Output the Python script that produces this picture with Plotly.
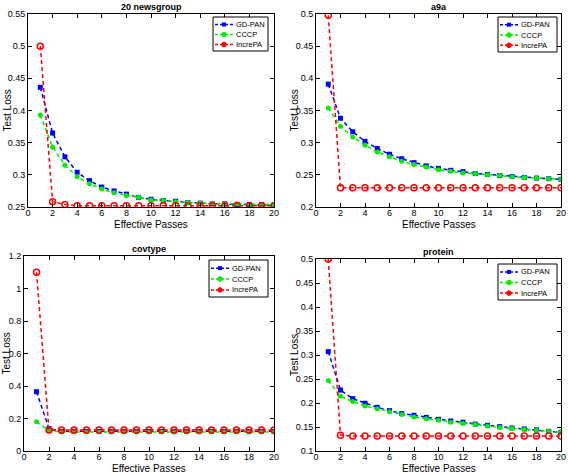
import plotly.graph_objects as go

passes = list(range(1, 21))

# 20 newsgroup
ng_gdpan = [0.436, 0.365, 0.328, 0.304, 0.291, 0.281, 0.275, 0.270, 0.265, 0.262,
            0.260, 0.259, 0.257, 0.256, 0.255, 0.255, 0.254, 0.254, 0.254, 0.253]
ng_cccp = [0.393, 0.343, 0.315, 0.297, 0.286, 0.278, 0.272, 0.268, 0.265, 0.261,
           0.260, 0.258, 0.257, 0.256, 0.256, 0.255, 0.255, 0.254, 0.254, 0.254]
ng_increpa = [0.500, 0.258, 0.254, 0.252, 0.252, 0.252, 0.252, 0.252, 0.252, 0.252,
              0.252, 0.252, 0.252, 0.252, 0.252, 0.252, 0.252, 0.252, 0.252, 0.252]

# a9a
a9_gdpan = [0.391, 0.338, 0.317, 0.302, 0.291, 0.282, 0.275, 0.269, 0.264, 0.260,
            0.257, 0.255, 0.252, 0.2505, 0.249, 0.2475, 0.246, 0.245, 0.244, 0.243]
a9_cccp = [0.354, 0.3255, 0.309, 0.296, 0.2855, 0.278, 0.271, 0.266, 0.262, 0.258,
           0.2555, 0.253, 0.252, 0.250, 0.249, 0.247, 0.246, 0.245, 0.244, 0.243]
a9_increpa = [0.498] + [0.230] * 19

# covtype
cov_gdpan = [0.365, 0.138] + [0.121] * 18
cov_cccp = [0.180, 0.125] + [0.117] * 18
cov_increpa = [1.100, 0.129] + [0.129] * 18

# protein
pr_gdpan = [0.307, 0.227, 0.209, 0.1995, 0.191, 0.184, 0.178, 0.1745, 0.170, 0.166,
            0.1625, 0.160, 0.156, 0.1535, 0.1507, 0.148, 0.146, 0.144, 0.141, 0.139]
pr_cccp = [0.247, 0.214, 0.203, 0.194, 0.188, 0.182, 0.176, 0.171, 0.167, 0.164,
           0.160, 0.1575, 0.155, 0.152, 0.149, 0.147, 0.145, 0.143, 0.141, 0.139]
pr_increpa = [0.500, 0.133] + [0.131] * 18

titles = ["20 newsgroup", "a9a", "covtype", "protein"]
series_names = ["GD-PAN", "CCCP", "IncrePA"]
x_label = "Effective Passes"
y_label = "Test Loss"
data = [
    (ng_gdpan, ng_cccp, ng_increpa),
    (a9_gdpan, a9_cccp, a9_increpa),
    (cov_gdpan, cov_cccp, cov_increpa),
    (pr_gdpan, pr_cccp, pr_increpa),
]
y_ranges = [(0.25, 0.55), (0.2, 0.5), (0, 1.2), (0.1, 0.5)]
y_dticks = [0.05, 0.05, 0.2, 0.05]

W, H = 568, 475
# pixel boxes: (left, right, top, bottom)
boxes = [(28, 274, 14, 207), (316, 561, 14, 207), (24, 274, 256, 451), (316, 561, 259, 451)]
# legend boxes: (left, top, right, bottom)
legend_boxes = [(213, 17, 268, 51), (498, 17, 557, 52), (209, 260, 268, 297), (498, 264, 557, 300)]
ytitle_x = [7, 294, 6, 294]

FONT = "Liberation Sans, Arial, sans-serif"
colors = ["#0000ff", "#00ee00", "#ff0000"]


def px(x):
    return x / W


def py(y):
    return 1 - y / H


fig = go.Figure()
annotations = []
shapes = []
layout = dict(width=W, height=H, margin=dict(l=0, r=0, t=0, b=0),
              paper_bgcolor="white", plot_bgcolor="white",
              font=dict(family=FONT, size=9, color="black"), showlegend=False)

for i in range(4):
    l, r, t, b = boxes[i]
    xa = "xaxis" if i == 0 else f"xaxis{i+1}"
    ya = "yaxis" if i == 0 else f"yaxis{i+1}"
    xref = "x" if i == 0 else f"x{i+1}"
    yref = "y" if i == 0 else f"y{i+1}"
    g, c, p = data[i]
    for k, (vals, name) in enumerate(zip((g, c, p), series_names)):
        if k == 0:
            marker = dict(symbol="square", size=5, color=colors[0])
        elif k == 1:
            marker = dict(symbol="circle", size=5, color=colors[1])
        else:
            marker = dict(symbol="circle-open", size=6, color=colors[2], line=dict(width=1.5))
        fig.add_trace(go.Scatter(
            x=passes, y=vals, name=name, mode="lines+markers",
            line=dict(color=colors[k], width=1.5, dash="4px,3px"),
            marker=marker, xaxis=xref, yaxis=yref))
    layout[xa] = dict(domain=[px(l), px(r)], anchor=yref, range=[0, 20], dtick=2,
                      showline=True, mirror="ticks", linecolor="black", linewidth=1,
                      ticks="inside", ticklen=4, tickcolor="black", showgrid=False,
                      zeroline=False, tickfont=dict(size=9), automargin=False,
                      ticklabelstandoff=-3)
    layout[ya] = dict(domain=[py(b), py(t)], anchor=xref, range=list(y_ranges[i]),
                      dtick=y_dticks[i], showline=True, mirror="ticks", linecolor="black",
                      linewidth=1, ticks="inside", ticklen=4, tickcolor="black",
                      showgrid=False, zeroline=False, tickfont=dict(size=9), automargin=False)
    # title
    annotations.append(dict(text=f"<b>{titles[i]}</b>", x=px((l + r) / 2), y=py(t - 7),
                            xref="paper", yref="paper", xanchor="center", yanchor="middle",
                            showarrow=False, font=dict(size=9)))
    # axis titles
    annotations.append(dict(text=x_label, x=px((l + r) / 2), y=py(b + 17),
                            xref="paper", yref="paper", xanchor="center", yanchor="middle",
                            showarrow=False, font=dict(size=10)))
    annotations.append(dict(text=y_label, x=px(ytitle_x[i]), y=py((t + b) / 2),
                            xref="paper", yref="paper", xanchor="center", yanchor="middle",
                            textangle=-90, showarrow=False, font=dict(size=10)))
    # legend (drawn as decorations)
    ll, lt, lr, lb = legend_boxes[i]
    shapes.append(dict(type="rect", xref="paper", yref="paper", x0=px(ll), x1=px(lr),
                       y0=py(lb), y1=py(lt), line=dict(color="black", width=1),
                       fillcolor="white", layer="above"))
    step = (lb - lt) / 3.4
    for k, name in enumerate(series_names):
        yy = lt + step * (k + 0.75)
        shapes.append(dict(type="line", xref="paper", yref="paper", x0=px(ll + 2), x1=px(ll + 20),
                           y0=py(yy), y1=py(yy), line=dict(color=colors[k], width=1.5, dash="3px,2px"),
                           layer="above"))
        cx = ll + 11
        if k == 0:
            shapes.append(dict(type="rect", xref="paper", yref="paper", x0=px(cx - 2), x1=px(cx + 2),
                               y0=py(yy + 2), y1=py(yy - 2), line=dict(width=0),
                               fillcolor=colors[0], layer="above"))
        else:
            shapes.append(dict(type="circle", xref="paper", yref="paper", x0=px(cx - 2.3), x1=px(cx + 2.3),
                               y0=py(yy + 2.3), y1=py(yy - 2.3), line=dict(color=colors[k], width=1),
                               fillcolor=colors[k], layer="above"))
        annotations.append(dict(text=name, x=px(ll + 21), y=py(yy), xref="paper", yref="paper",
                                xanchor="left", yanchor="middle", showarrow=False,
                                font=dict(size=7.5)))

layout["annotations"] = annotations
layout["shapes"] = shapes
fig.update_layout(**layout)
fig.write_html("out.html", config={"displayModeBar": False},
               post_script="document.body.style.margin='0px';")
